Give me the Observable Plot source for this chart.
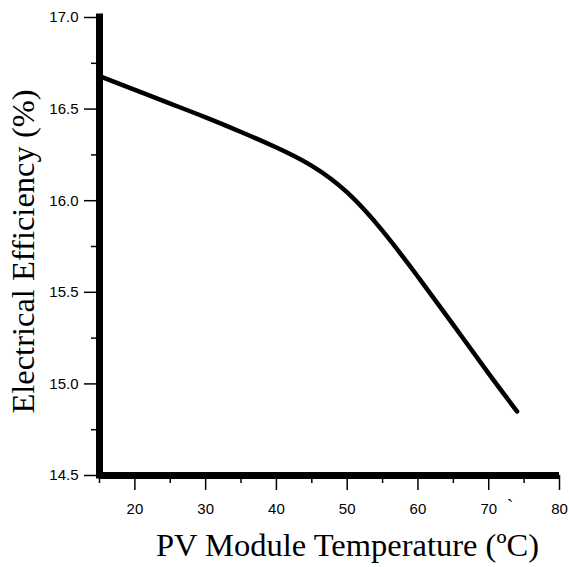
<!DOCTYPE html>
<html>
<head>
<meta charset="utf-8">
<script src="https://cdn.jsdelivr.net/npm/d3@7"></script>
<script src="https://cdn.jsdelivr.net/npm/@observablehq/plot@0.6"></script>
<style>
  html, body { margin: 0; padding: 0; background: white; }
</style>
</head>
<body>
<div id="chart"></div>
<script>
// Data
const temps = [15, 20, 25, 30, 35, 40, 45, 50, 55, 60, 65, 70, 74];
const efficiency = [16.68, 16.605, 16.53, 16.455, 16.375, 16.29, 16.19, 16.045, 15.835, 15.585, 15.322, 15.056, 14.85];
const xTicks = [20, 30, 40, 50, 60, 70, 80];
const xMinorTicks = [15, 25, 35, 45, 55, 65, 75];
const yTicks = [14.5, 15.0, 15.5, 16.0, 16.5, 17.0];
const yMinorTicks = [14.75, 15.25, 15.75, 16.25, 16.75];
const xTitle = "PV Module Temperature (ºC)";
const yTitle = "Electrical Efficiency (%)";

const data = temps.map((t, i) => ({temp: t, eff: efficiency[i]}));

const serif = "'Liberation Serif', 'Times New Roman', Times, serif";

const chart = Plot.plot({
  width: 569,
  height: 567,
  marginLeft: 99,
  marginRight: 10,
  marginTop: 17,
  marginBottom: 92,
  x: {domain: [15, 80]},
  y: {domain: [14.5, 17]},
  style: {background: "white", fontFamily: "'Liberation Sans', Arial, sans-serif", color: "black"},
  marks: [
    Plot.axisY(yTicks, {anchor: "left", tickSize: 15, tickPadding: 6, fontSize: 15, strokeWidth: 1.5, tickFormat: d => d.toFixed(1), label: null}),
    Plot.axisY(yMinorTicks, {anchor: "left", tickSize: 8, strokeWidth: 1.5, tickFormat: () => "", label: null}),
    Plot.axisX(xTicks, {anchor: "bottom", tickSize: 15, tickPadding: 13, fontSize: 15, strokeWidth: 1.5, label: null}),
    Plot.axisX(xMinorTicks, {anchor: "bottom", tickSize: 8, strokeWidth: 1.5, tickFormat: () => "", label: null}),
    Plot.ruleX([15], {stroke: "black", strokeWidth: 7, strokeLinecap: "square"}),
    Plot.ruleY([14.5], {stroke: "black", strokeWidth: 7}),
    Plot.line(data, {x: "temp", y: "eff", curve: "natural", stroke: "black", strokeWidth: 4.5}),
    Plot.text([xTitle], {frameAnchor: "bottom", lineAnchor: "bottom", textAnchor: "middle", dx: 18, dy: 80, fontSize: 32.5, fontFamily: serif, fill: "black"}),
    Plot.text(["`"], {x: 73, frameAnchor: "bottom", lineAnchor: "bottom", dy: 38, fontSize: 20, fontFamily: serif, fill: "black"}),
    Plot.text([yTitle], {frameAnchor: "left", lineAnchor: "bottom", textAnchor: "middle", rotate: -90, dx: -65.5, dy: 5, fontSize: 32.5, fontFamily: serif, fill: "black"})
  ]
});

document.getElementById("chart").appendChild(chart);
</script>
</body>
</html>
